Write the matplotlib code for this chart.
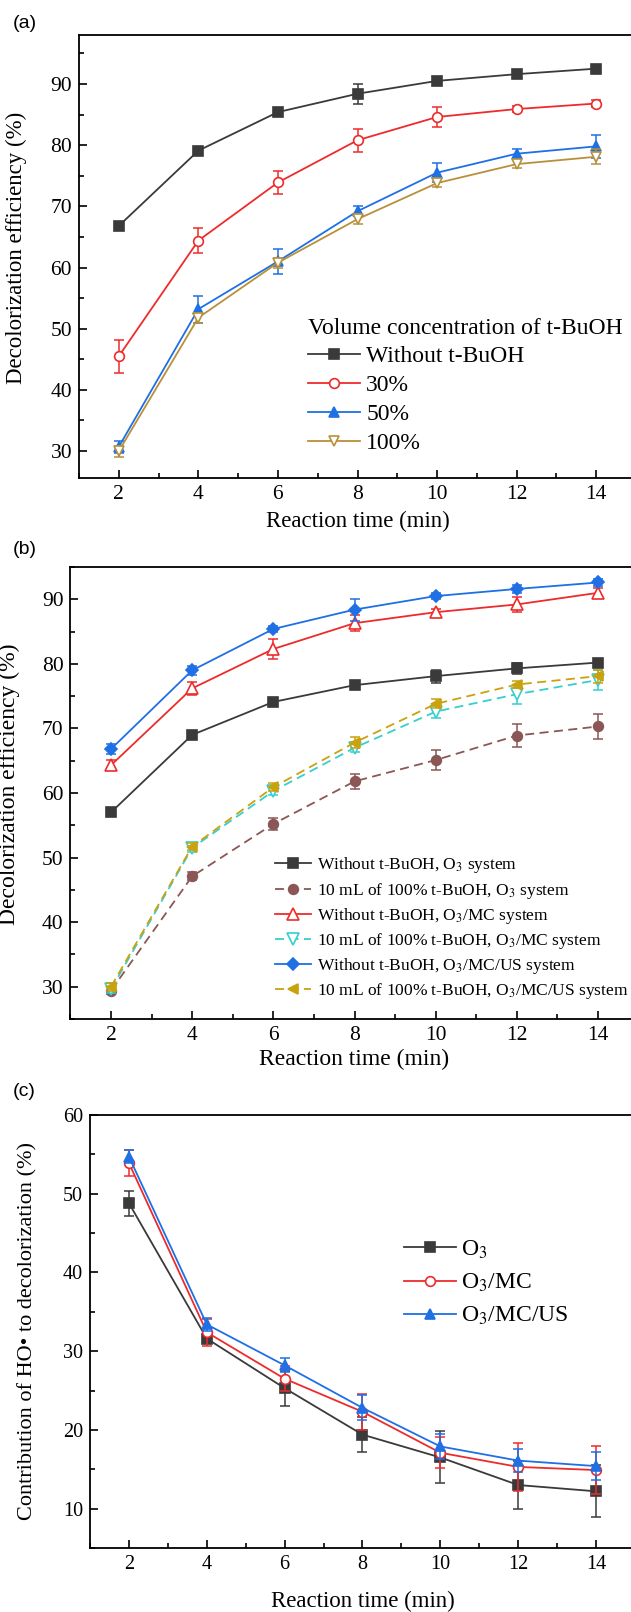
import matplotlib.pyplot as plt
from matplotlib.ticker import MultipleLocator

plt.rcParams['font.family'] = ['Liberation Serif', 'DejaVu Serif']
plt.rcParams['mathtext.fontset'] = 'stix'

W, H = 631, 1612

time = [2, 4, 6, 8, 10, 12, 14]

# (a) 不同t-BuOH体积浓度
a_without = [66.8, 79.1, 85.4, 88.4, 90.5, 91.6, 92.5]
a_without_err = [0.6, 0.4, 0.4, 1.6, 0.4, 0.5, 0.4]
a_30 = [45.5, 64.4, 73.9, 80.8, 84.6, 85.9, 86.8]
a_30_err = [2.7, 2.1, 1.9, 1.9, 1.6, 0.5, 0.5]
a_50 = [30.7, 53.2, 61.0, 69.2, 75.5, 78.6, 79.8]
a_50_err = [1.0, 2.2, 2.0, 0.8, 1.5, 0.8, 1.9]
a_100 = [30.0, 51.8, 60.8, 67.9, 73.8, 76.9, 78.1]
a_100_err = [0.9, 0.8, 0.8, 0.8, 0.6, 0.7, 1.2]

# (b) 不同体系
b_o3 = [57.0, 69.0, 74.1, 76.7, 78.1, 79.3, 80.2]
b_o3_err = [0.5, 0.5, 0.5, 0.5, 1.0, 0.8, 0.6]
b_o3_tb = [29.4, 47.1, 55.2, 61.8, 65.1, 68.9, 70.3]
b_o3_tb_err = [0.5, 0.6, 1.0, 1.2, 1.5, 1.8, 1.9]
b_mc = [64.3, 76.2, 82.3, 86.3, 88.0, 89.2, 91.0]
b_mc_err = [0.8, 1.0, 1.5, 1.2, 0.5, 1.2, 0.8]
b_mc_tb = [29.6, 51.5, 60.3, 67.0, 72.6, 75.3, 77.5]
b_mc_tb_err = [0.6, 0.6, 0.6, 0.6, 1.0, 1.5, 1.5]
b_us = [66.8, 79.0, 85.4, 88.4, 90.5, 91.6, 92.6]
b_us_err = [0.8, 0.7, 0.5, 1.7, 0.5, 0.6, 0.5]
b_us_tb = [30.0, 51.7, 60.9, 67.8, 73.8, 76.8, 78.1]
b_us_tb_err = [0.6, 0.6, 0.6, 0.8, 0.7, 0.6, 1.0]

# (c) HO•贡献
c_o3 = [48.8, 31.6, 25.3, 19.4, 16.5, 13.0, 12.2]
c_o3_err = [1.6, 0.5, 2.2, 2.2, 3.3, 3.0, 3.3]
c_mc = [53.9, 32.4, 26.5, 22.3, 17.1, 15.3, 14.9]
c_mc_err = [1.7, 1.7, 1.6, 2.3, 2.0, 3.1, 3.0]
c_us = [54.7, 33.4, 28.2, 22.8, 17.9, 16.1, 15.4]
c_us_err = [0.8, 0.8, 0.9, 1.6, 1.6, 1.5, 1.8]

BLACK = '#3a3a3a'
RED = '#ee2b2b'
BLUE = '#1f6fe5'
GOLD_A = '#b8903a'
BROWN = '#8a5656'
CYAN = '#35cfcf'
GOLD_B = '#c9a20f'


def px_axes(fig, left, top, right, bottom):
    return fig.add_axes([left / W, 1 - bottom / H, (right - left) / W, (bottom - top) / H])


def style(ax, ylim, ymajor, tick_fs):
    ax.set_xlim(1, 15)
    ax.set_ylim(*ylim)
    ax.xaxis.set_major_locator(MultipleLocator(2))
    ax.xaxis.set_minor_locator(MultipleLocator(1))
    ax.yaxis.set_major_locator(MultipleLocator(ymajor))
    ax.yaxis.set_minor_locator(MultipleLocator(ymajor / 2))
    ax.tick_params(which='both', direction='in', width=1.2, labelsize=tick_fs, pad=5)
    ax.tick_params(which='major', length=6)
    ax.tick_params(which='minor', length=3.5)
    for s in ax.spines.values():
        s.set_linewidth(1.3)


def series(ax, y, err, color, marker, label, ls='-', mfc=None, ms=7):
    # 误差棒单独画，图例只显示线和标记
    ax.errorbar(time, y, yerr=err, fmt='none', ecolor=color, elinewidth=1.1,
                capsize=3.5, capthick=1.1)
    ax.plot(time, y, color=color, marker=marker, ls=ls, lw=1.3, ms=ms,
            mfc=mfc if mfc else color, mec=color, mew=1.2, label=label,
            dashes=(5, 3) if ls == '--' else (None, None))


fig = plt.figure(figsize=(W / 100, H / 100), dpi=100)

# ---------- (a) ----------
ax = px_axes(fig, 79, 35, 636, 478)
series(ax, a_without, a_without_err, BLACK, 's', 'Without t-BuOH')
series(ax, a_30, a_30_err, RED, 'o', '30%', mfc='white')
series(ax, a_50, a_50_err, BLUE, '^', '50%')
series(ax, a_100, a_100_err, GOLD_A, 'v', '100%', mfc='white')
style(ax, (25.6, 98), 10, 15.5)
ax.set_xlabel('Reaction time (min)', fontsize=16.5, labelpad=5)
ax.set_ylabel('Decolorization efficiency (%)', fontsize=16.5)
ax.yaxis.set_label_coords((27 - 79) / 557, 0.52)
leg = ax.legend(loc='upper left', bbox_to_anchor=(0.412, 0.362), frameon=False,
                fontsize=17, title='Volume concentration of t-BuOH',
                title_fontsize=17, alignment='left', handlelength=2.2,
                handletextpad=0.25, labelspacing=0.32, borderpad=0, borderaxespad=0)
leg._legend_box.sep = 5
fig.text(13 / W, 1 - 24 / H, '(a)', family='Liberation Sans', fontsize=14, va='center')

# ---------- (b) ----------
ax = px_axes(fig, 70.4, 567, 638.6, 1019)
series(ax, b_o3, b_o3_err, BLACK, 's', 'Without t-BuOH, O$_3$ system')
series(ax, b_o3_tb, b_o3_tb_err, BROWN, 'o', '10 mL of 100% t-BuOH, O$_3$ system', ls='--')
series(ax, b_mc, b_mc_err, RED, '^', 'Without t-BuOH, O$_3$/MC system', mfc='white', ms=8)
series(ax, b_mc_tb, b_mc_tb_err, CYAN, 'v', '10 mL of 100% t-BuOH, O$_3$/MC system',
       ls='--', mfc='white', ms=8)
series(ax, b_us, b_us_err, BLUE, 'D', 'Without t-BuOH, O$_3$/MC/US system', ms=6.5)
series(ax, b_us_tb, b_us_tb_err, GOLD_B, '<', '10 mL of 100% t-BuOH, O$_3$/MC/US system',
       ls='--', ms=7.5)
style(ax, (25, 95), 10, 15.5)
ax.set_xlabel('Reaction time (min)', fontsize=17, labelpad=3)
ax.set_ylabel('Decolorization efficiency (%)', fontsize=17)
ax.yaxis.set_label_coords((20 - 70.4) / 568, 0.52)
ax.legend(loc='upper left', bbox_to_anchor=(0.36, 0.362), frameon=False,
          fontsize=12.5, handlelength=2.1, handletextpad=0.3, labelspacing=0.3,
          borderpad=0, borderaxespad=0)
fig.text(13 / W, 1 - 550 / H, '(b)', family='Liberation Sans', fontsize=14, va='center')

# ---------- (c) ----------
ax = px_axes(fig, 90, 1115, 635, 1548)
series(ax, c_o3, c_o3_err, BLACK, 's', 'O$_3$')
series(ax, c_mc, c_mc_err, RED, 'o', 'O$_3$/MC', mfc='white')
series(ax, c_us, c_us_err, BLUE, '^', 'O$_3$/MC/US')
style(ax, (5, 60), 10, 14.5)
ax.set_xlabel('Reaction time (min)', fontsize=16.5, labelpad=12)
ax.set_ylabel('Contribution of HO• to decolorization (%)', fontsize=16)
ax.yaxis.set_label_coords((37 - 90) / 545, 0.5)
ax.legend(loc='upper left', bbox_to_anchor=(0.576, 0.715), frameon=False,
          fontsize=17, handlelength=2.2, handletextpad=0.2, labelspacing=0.47,
          borderpad=0, borderaxespad=0)
fig.text(13 / W, 1 - 1091 / H, '(c)', family='Liberation Sans', fontsize=14, va='center')

fig.savefig('out.png', dpi=100)
